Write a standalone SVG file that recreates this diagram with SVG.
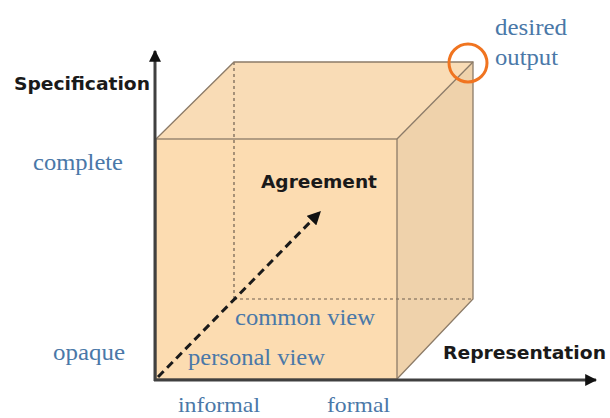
<svg xmlns="http://www.w3.org/2000/svg" width="610" height="418" viewBox="0 0 610 418">
  <defs>
    <marker id="head" viewBox="0 0 10 10" refX="9" refY="5" markerWidth="4" markerHeight="4" orient="auto" markerUnits="strokeWidth">
      <path d="M0,0 L10,5 L0,10 z" fill="#111"/>
    </marker>
    <marker id="headDash" viewBox="0 0 10 10" refX="9" refY="5" markerWidth="4.5" markerHeight="4.5" orient="auto" markerUnits="strokeWidth">
      <path d="M0,0 L10,5 L0,10 z" fill="#111"/>
    </marker>
  </defs>
  <style>
    .edge { stroke: #8c7b68; stroke-width: 1.3; fill: none; }
    .hidden { stroke: #6e5f50; stroke-width: 1.2; stroke-dasharray: 3 3; fill: none; }
    .axis { stroke: #404040; stroke-width: 3; fill: none; }
    .lbl { font-family: "DejaVu Sans", Verdana, sans-serif; font-weight: bold; fill: #1a1a1a; }
    .val { font-family: "Liberation Serif", "Times New Roman", serif; fill: #4a78a8; }
  </style>

  <!-- cube faces -->
  <g id="cube">
    <polygon points="156,139 234,62 473,62 397,139" fill="#f9dcb6"/>
    <polygon points="397,139 473,62 473,299 397,379" fill="#efd2ab"/>
    <rect x="156" y="139" width="241" height="240" fill="#fcdcb1"/>
    <!-- hidden back edges -->
    <line class="hidden" x1="234" y1="62" x2="234" y2="299"/>
    <line class="hidden" x1="234" y1="299" x2="473" y2="299"/>
    <!-- visible edges -->
    <polyline class="edge" points="156,139 234,62 473,62 473,299 397,379"/>
    <rect class="edge" x="156" y="139" width="241" height="240"/>
    <line class="edge" x1="397" y1="139" x2="473" y2="62" stroke="#4a4036"/>
  </g>

  <!-- axes and agreement arrow -->
  <g id="connectors">
    <line class="axis" x1="155" y1="381" x2="155" y2="51" marker-end="url(#head)"/>
    <line class="axis" x1="154" y1="380" x2="596" y2="380" marker-end="url(#head)"/>
    <line x1="158" y1="377" x2="320" y2="212" stroke="#1a1a1a" stroke-width="3" stroke-dasharray="8 5" marker-end="url(#headDash)"/>
  </g>

  <g id="desired-marker">
    <circle cx="468" cy="63" r="19" fill="none" stroke="#f07420" stroke-width="3"/>
  </g>

  <!-- axis titles -->
  <g id="axis-specification">
    <text class="lbl" x="14" y="90" font-size="17" textLength="136" lengthAdjust="spacingAndGlyphs">Specification</text>
  </g>
  <g id="axis-representation">
    <text class="lbl" x="443" y="359" font-size="17" textLength="163" lengthAdjust="spacingAndGlyphs">Representation</text>
  </g>
  <g id="agreement">
    <text class="lbl" x="261" y="188" font-size="17" textLength="116" lengthAdjust="spacingAndGlyphs">Agreement</text>
  </g>

  <!-- axis values -->
  <g id="complete">
    <text class="val" x="33" y="170" font-size="23" textLength="90" lengthAdjust="spacingAndGlyphs">complete</text>
  </g>
  <g id="opaque">
    <text class="val" x="53" y="360" font-size="23" textLength="72" lengthAdjust="spacingAndGlyphs">opaque</text>
  </g>
  <g id="informal">
    <text class="val" x="178" y="412" font-size="21" textLength="82" lengthAdjust="spacingAndGlyphs">informal</text>
  </g>
  <g id="formal">
    <text class="val" x="327" y="412" font-size="21" textLength="63" lengthAdjust="spacingAndGlyphs">formal</text>
  </g>
  <g id="common-view">
    <text class="val" x="235" y="325" font-size="23" textLength="140" lengthAdjust="spacingAndGlyphs" fill="#5b7d95">common view</text>
  </g>
  <g id="personal-view">
    <text class="val" x="188" y="365" font-size="23" textLength="137" lengthAdjust="spacingAndGlyphs">personal view</text>
  </g>
  <g id="desired-output">
    <text class="val" x="495" y="35" font-size="23" textLength="72" lengthAdjust="spacingAndGlyphs">desired</text>
    <text class="val" x="495" y="65" font-size="23" textLength="63" lengthAdjust="spacingAndGlyphs">output</text>
  </g>
</svg>
